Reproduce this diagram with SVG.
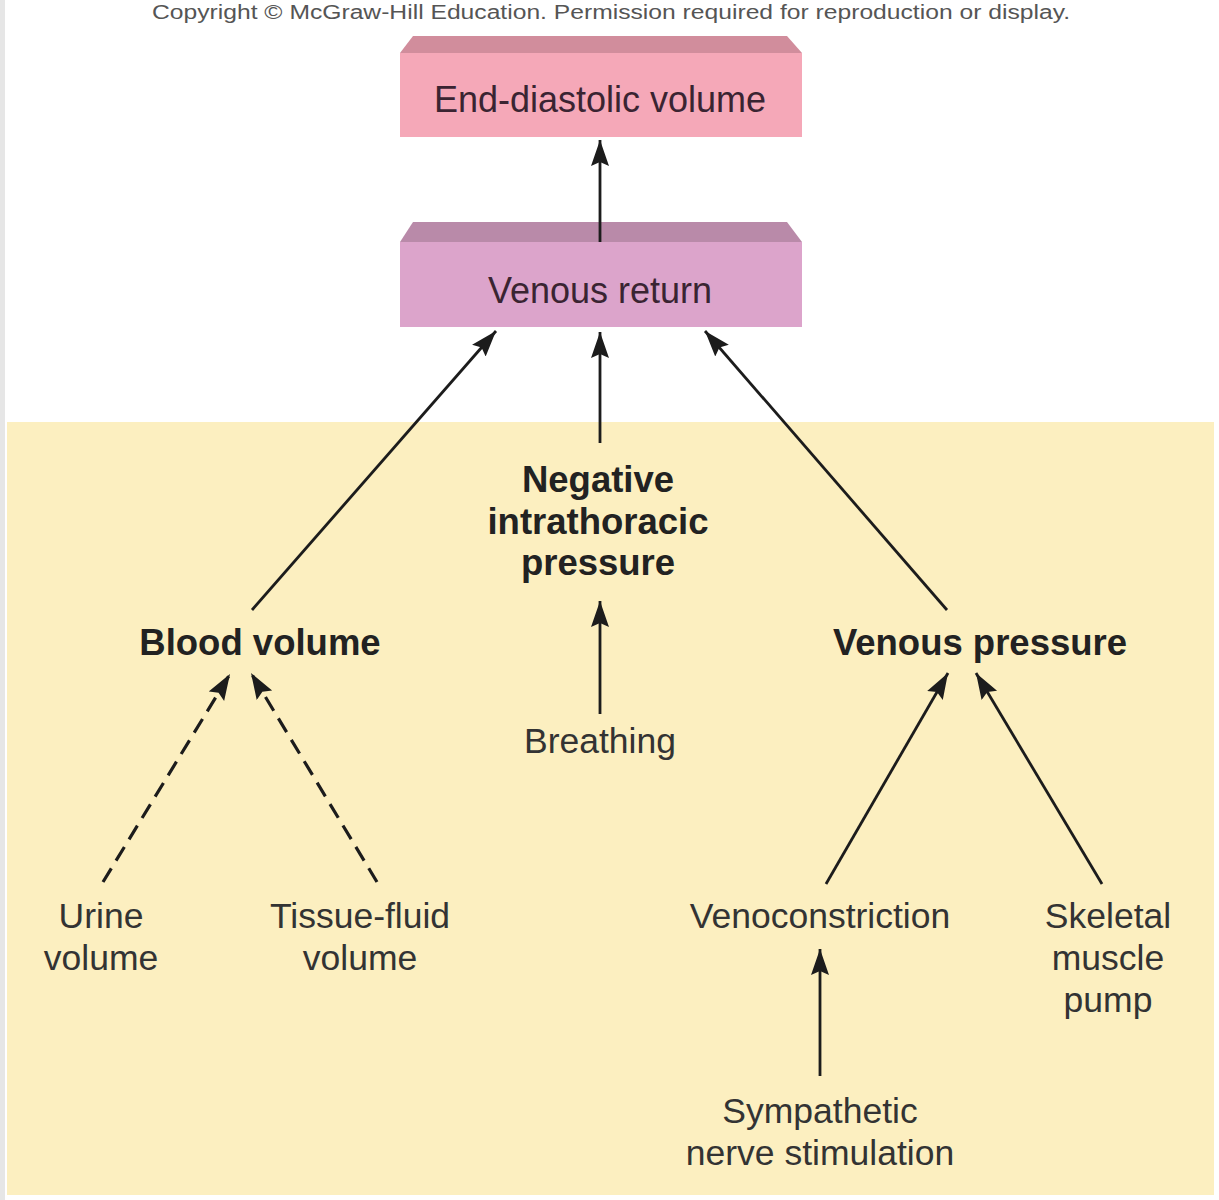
<svg xmlns="http://www.w3.org/2000/svg" width="1219" height="1200" viewBox="0 0 1219 1200">
<defs>
<style>
.t{font-family:"Liberation Sans",Arial,sans-serif;font-size:35.5px;fill:#333;text-anchor:middle}
.b{font-family:"Liberation Sans",Arial,sans-serif;font-size:36.5px;font-weight:bold;fill:#222;text-anchor:middle}
.bx{font-family:"Liberation Sans",Arial,sans-serif;font-size:36px;fill:#3a2432;text-anchor:middle}
.ln{stroke:#1c1c1c;stroke-width:2.8;fill:none}
.dash{stroke-dasharray:16 9;stroke-width:3.2}
</style>
<marker id="ah" markerUnits="userSpaceOnUse" markerWidth="28" markerHeight="20" refX="26" refY="9" orient="auto">
<path d="M0,0 L26,9 L0,18 L4,9 z" fill="#1c1c1c"/>
</marker>
</defs>
<rect x="0" y="0" width="1219" height="1200" fill="#ffffff"/>
<rect x="0" y="0" width="5" height="1200" fill="#e6e6e6"/>
<rect x="7" y="422" width="1207" height="773" fill="#fcefc0"/>
<text x="611" y="19" font-family="'Liberation Sans',Arial,sans-serif" font-size="20" fill="#555" text-anchor="middle" textLength="918" lengthAdjust="spacingAndGlyphs">Copyright © McGraw-Hill Education. Permission required for reproduction or display.</text>

<g id="edv">
<polygon points="413,36 787,36 802,53 400,53" fill="#d18d9c"/>
<rect x="400" y="53" width="402" height="84" fill="#f5a8b8"/>
<text class="bx" x="600" y="112">End-diastolic volume</text>
</g>
<g id="venous-return">
<polygon points="413,222 787,222 802,242 400,242" fill="#b98aa9"/>
<rect x="400" y="242" width="402" height="85" fill="#dca4cb"/>
<text class="bx" x="600" y="303">Venous return</text>
</g>
<g id="negative-pressure">
<text class="b" x="598" y="492">Negative</text>
<text class="b" x="598" y="534">intrathoracic</text>
<text class="b" x="598" y="575">pressure</text>
</g>
<g id="blood-volume"><text class="b" x="260" y="655">Blood volume</text></g>
<g id="venous-pressure"><text class="b" x="980" y="655">Venous pressure</text></g>
<g id="breathing"><text class="t" x="600" y="753">Breathing</text></g>
<g id="urine"><text class="t" x="101" y="928">Urine</text><text class="t" x="101" y="970">volume</text></g>
<g id="tissue-fluid"><text class="t" x="360" y="928">Tissue-fluid</text><text class="t" x="360" y="970">volume</text></g>
<g id="venoconstriction"><text class="t" x="820" y="928">Venoconstriction</text></g>
<g id="skeletal"><text class="t" x="1108" y="928">Skeletal</text><text class="t" x="1108" y="970">muscle</text><text class="t" x="1108" y="1012">pump</text></g>
<g id="sympathetic"><text class="t" x="820" y="1123">Sympathetic</text><text class="t" x="820" y="1165">nerve stimulation</text></g>

<g id="connectors">
<line class="ln" x1="600" y1="242" x2="600" y2="140" marker-end="url(#ah)"/>
<line class="ln" x1="252" y1="610" x2="496" y2="331" marker-end="url(#ah)"/>
<line class="ln" x1="600" y1="443" x2="600" y2="332" marker-end="url(#ah)"/>
<line class="ln" x1="947" y1="610" x2="705" y2="331" marker-end="url(#ah)"/>
<line class="ln" x1="600" y1="714" x2="600" y2="601" marker-end="url(#ah)"/>
<line class="ln dash" x1="103" y1="882" x2="230" y2="674" marker-end="url(#ah)"/>
<line class="ln dash" x1="377" y1="882" x2="251" y2="673" marker-end="url(#ah)"/>
<line class="ln" x1="826" y1="884" x2="948" y2="673" marker-end="url(#ah)"/>
<line class="ln" x1="1102" y1="884" x2="976" y2="673" marker-end="url(#ah)"/>
<line class="ln" x1="820" y1="1076" x2="820" y2="949" marker-end="url(#ah)"/>
</g>
</svg>
